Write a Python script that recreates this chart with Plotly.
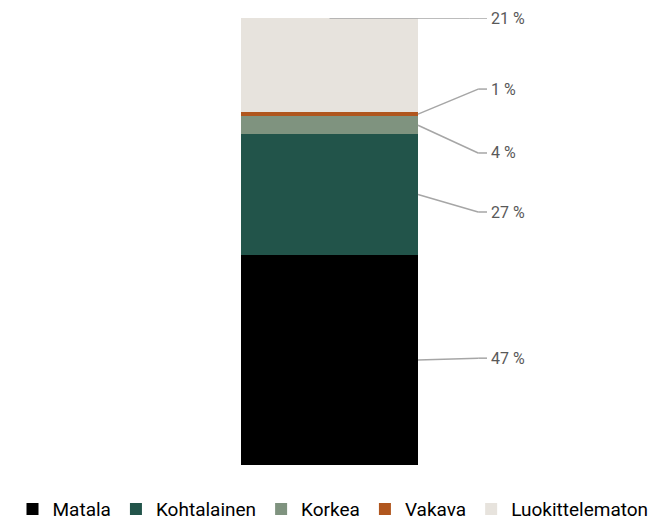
import plotly.graph_objects as go

categories = ["Matala", "Kohtalainen", "Korkea", "Vakava", "Luokittelematon"]
values = [47, 27, 4, 1, 21]
labels = ["47 %", "27 %", "4 %", "1 %", "21 %"]
colors = ["#000000", "#22544A", "#7F937F", "#B0561E", "#E7E3DD"]

# where each label sits (y in data units)
label_y = [23.9, 56.6, 69.8, 84.1, 100.0]

fig = go.Figure()
for name, v, c in zip(categories, values, colors):
    fig.add_trace(go.Bar(x=[0], y=[v], name=name, marker=dict(color=c, line=dict(width=0)),
                         width=1, hoverinfo="skip"))

line_style = dict(color="#A6A6A6", width=1.5)
base = 0
for i, v in enumerate(values):
    mid = base + v / 2
    base += v
    if i == len(values) - 1:
        # top segment: leader starts from the top edge
        x0, y0, xe = 0.0, base, 0.79
    else:
        x0, y0, xe = 0.5, mid, 0.84
    ly = label_y[i]
    fig.add_shape(type="line", xref="x", yref="y", x0=x0, y0=y0, x1=xe, y1=ly, line=line_style)
    fig.add_shape(type="line", xref="x", yref="y", x0=xe, y0=ly, x1=0.89, y1=ly, line=line_style)
    fig.add_annotation(x=0.89, y=ly, xref="x", yref="y", text=labels[i], showarrow=False,
                       xanchor="left", xshift=2, font=dict(size=16, color="#595959"))

fig.update_layout(
    width=650, height=514,
    barmode="stack",
    plot_bgcolor="white", paper_bgcolor="white",
    margin=dict(l=0, r=0, t=10, b=57),
    font=dict(family="Roboto, Liberation Sans, sans-serif"),
    xaxis=dict(range=[-1.8164, 1.8559], visible=False, fixedrange=True),
    yaxis=dict(range=[0, 100], visible=False, fixedrange=True),
    showlegend=True,
    legend=dict(orientation="h", x=0.5, xanchor="center", y=0.062, yanchor="top",
                yref="container",
                traceorder="normal", font=dict(size=19, color="#000000"),
                itemwidth=30, tracegroupgap=0),
)

fig.write_html("out.html")
